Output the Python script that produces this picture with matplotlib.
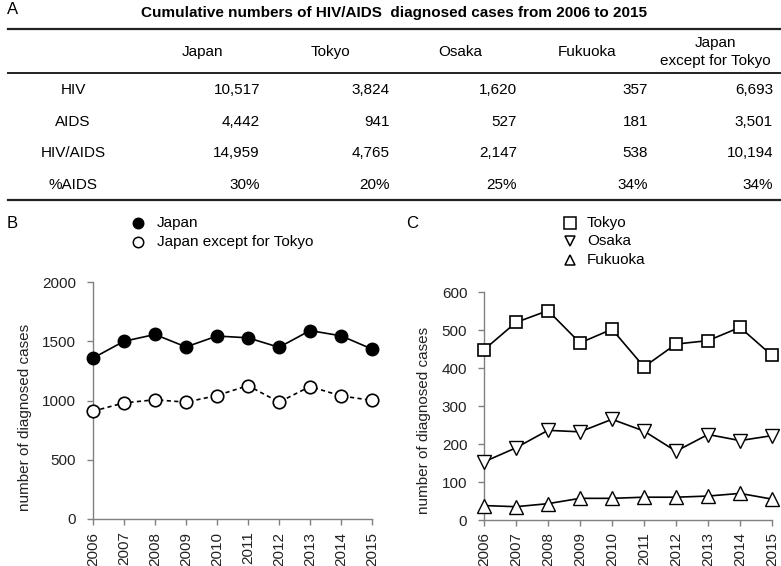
import matplotlib
matplotlib.use('Agg')
import matplotlib.pyplot as plt
from matplotlib.lines import Line2D

plt.rcParams['font.family'] = ['Liberation Sans', 'DejaVu Sans']

# table (panel A)
col_names = ['Japan', 'Tokyo', 'Osaka', 'Fukuoka', 'Japan\nexcept for Tokyo']
row_names = ['HIV', 'AIDS', 'HIV/AIDS', '%AIDS']
hiv_cases = [10517, 3824, 1620, 357, 6693]
aids_cases = [4442, 941, 527, 181, 3501]
total_cases = [14959, 4765, 2147, 538, 10194]
pct_aids = [30, 20, 25, 34, 34]

# yearly diagnosed cases (panels B and C)
years = list(range(2006, 2016))
japan = [1358, 1500, 1557, 1452, 1544, 1529, 1449, 1590, 1546, 1434]
japan_ex_tokyo = [910, 980, 1006, 986, 1042, 1126, 986, 1118, 1039, 1001]
tokyo = [448, 520, 551, 466, 502, 403, 463, 472, 507, 433]
osaka = [153, 190, 236, 232, 265, 234, 181, 225, 209, 222]
fukuoka = [38, 35, 43, 57, 57, 60, 60, 63, 70, 55]

W, H = 781, 566
fig = plt.figure(figsize=(W / 100, H / 100), dpi=100)


def fx(x):
    return x / W


def fy(y):
    return 1 - y / H


def hline(y, x0, x1, lw):
    fig.add_artist(Line2D([fx(x0), fx(x1)], [fy(y), fy(y)], color='#222222',
                          lw=lw, transform=fig.transFigure))


# ---- panel A: table ----
fig.text(fx(7), fy(9), 'A', fontsize=12, ha='left', va='center')
fig.text(fx(394), fy(13), 'Cumulative numbers of HIV/AIDS  diagnosed cases from 2006 to 2015',
         fontsize=11, fontweight='bold', ha='center', va='center')
hline(29, 8, 780, 1.6)
hline(73, 8, 780, 1.4)
hline(200, 8, 780, 1.6)

header_x = [202, 330, 460, 587, 715]
right_x = [260, 390, 517, 648, 773]
row_y = [90, 122, 153, 185]
for name, x in zip(col_names, header_x):
    fig.text(fx(x), fy(52), name, fontsize=11, ha='center', va='center', linespacing=1.35)

table_rows = [
    [f'{v:,}' for v in hiv_cases],
    [f'{v:,}' for v in aids_cases],
    [f'{v:,}' for v in total_cases],
    [f'{v}%' for v in pct_aids],
]
for name, vals, y in zip(row_names, table_rows, row_y):
    fig.text(fx(73), fy(y), name, fontsize=11, ha='center', va='center')
    for s, x in zip(vals, right_x):
        fig.text(fx(x), fy(y), s, fontsize=11, ha='right', va='center')


def style_axes(ax, yticks):
    for side in ['top', 'right']:
        ax.spines[side].set_visible(False)
    for side in ['left', 'bottom']:
        ax.spines[side].set_color('#808080')
        ax.spines[side].set_linewidth(1.0)
    ax.set_xlim(2006, 2015)
    ax.set_xticks(years)
    ax.set_xticklabels([str(y) for y in years], rotation=90)
    ax.set_yticks(yticks)
    ax.set_ylim(yticks[0], yticks[-1])
    ax.tick_params(axis='both', direction='out', length=4, width=1,
                   color='#808080', labelsize=11, labelcolor='#222222')
    ax.tick_params(axis='x', pad=5)
    ax.tick_params(axis='y', pad=8)


# ---- panel B ----
axB = fig.add_axes([fx(93), fy(519), (372 - 93) / W, (519 - 282) / H])
axB.plot(years, japan, '-o', color='black', lw=1.2, ms=9, clip_on=False, zorder=3)
axB.plot(years, japan_ex_tokyo, '--o', color='black', lw=1.2, ms=9, mfc='white',
         mec='black', mew=1.2, dashes=(2.5, 2), clip_on=False, zorder=3)
style_axes(axB, [0, 500, 1000, 1500, 2000])
fig.text(fx(25), fy(417), 'number of diagnosed cases', fontsize=11, rotation=90,
         ha='center', va='center', color='#222222')

fig.text(fx(7), fy(224), 'B', fontsize=12, ha='left', va='center')
legB = [('Japan', dict(marker='o', mfc='black')),
        ('Japan except for Tokyo', dict(marker='o', mfc='white'))]
for i, (label, mk) in enumerate(legB):
    y = 223 + 19 * i
    fig.add_artist(Line2D([fx(138)], [fy(y)], color='black', ls='none', ms=7.5,
                          mec='black', mew=1.1, transform=fig.transFigure, **mk))
    fig.text(fx(157), fy(y), label, fontsize=11, ha='left', va='center')

# ---- panel C ----
axC = fig.add_axes([fx(484), fy(520), (772 - 484) / W, (520 - 292) / H])
axC.plot(years, tokyo, '-s', color='black', lw=1.2, ms=8.5, mfc='white',
         mec='black', mew=1.2, clip_on=False, zorder=3)
axC.plot(years, osaka, '-v', color='black', lw=1.2, ms=10, mfc='white',
         mec='black', mew=1.0, clip_on=False, zorder=3)
axC.plot(years, fukuoka, '-^', color='black', lw=1.2, ms=10, mfc='white',
         mec='black', mew=1.0, clip_on=False, zorder=3)
style_axes(axC, [0, 100, 200, 300, 400, 500, 600])
fig.text(fx(424), fy(420), 'number of diagnosed cases', fontsize=11, rotation=90,
         ha='center', va='center', color='#222222')

fig.text(fx(406), fy(224), 'C', fontsize=12, ha='left', va='center')
legC = [('Tokyo', 's', 8.5), ('Osaka', 'v', 7.5), ('Fukuoka', '^', 7.5)]
for i, (label, m, ms) in enumerate(legC):
    y = 223 + 18.5 * i
    fig.add_artist(Line2D([fx(570)], [fy(y)], marker=m, ls='none', ms=ms, mfc='white',
                          mec='black', mew=1.1, transform=fig.transFigure))
    fig.text(fx(587), fy(y), label, fontsize=11, ha='left', va='center')

fig.savefig('out.png', dpi=100)
